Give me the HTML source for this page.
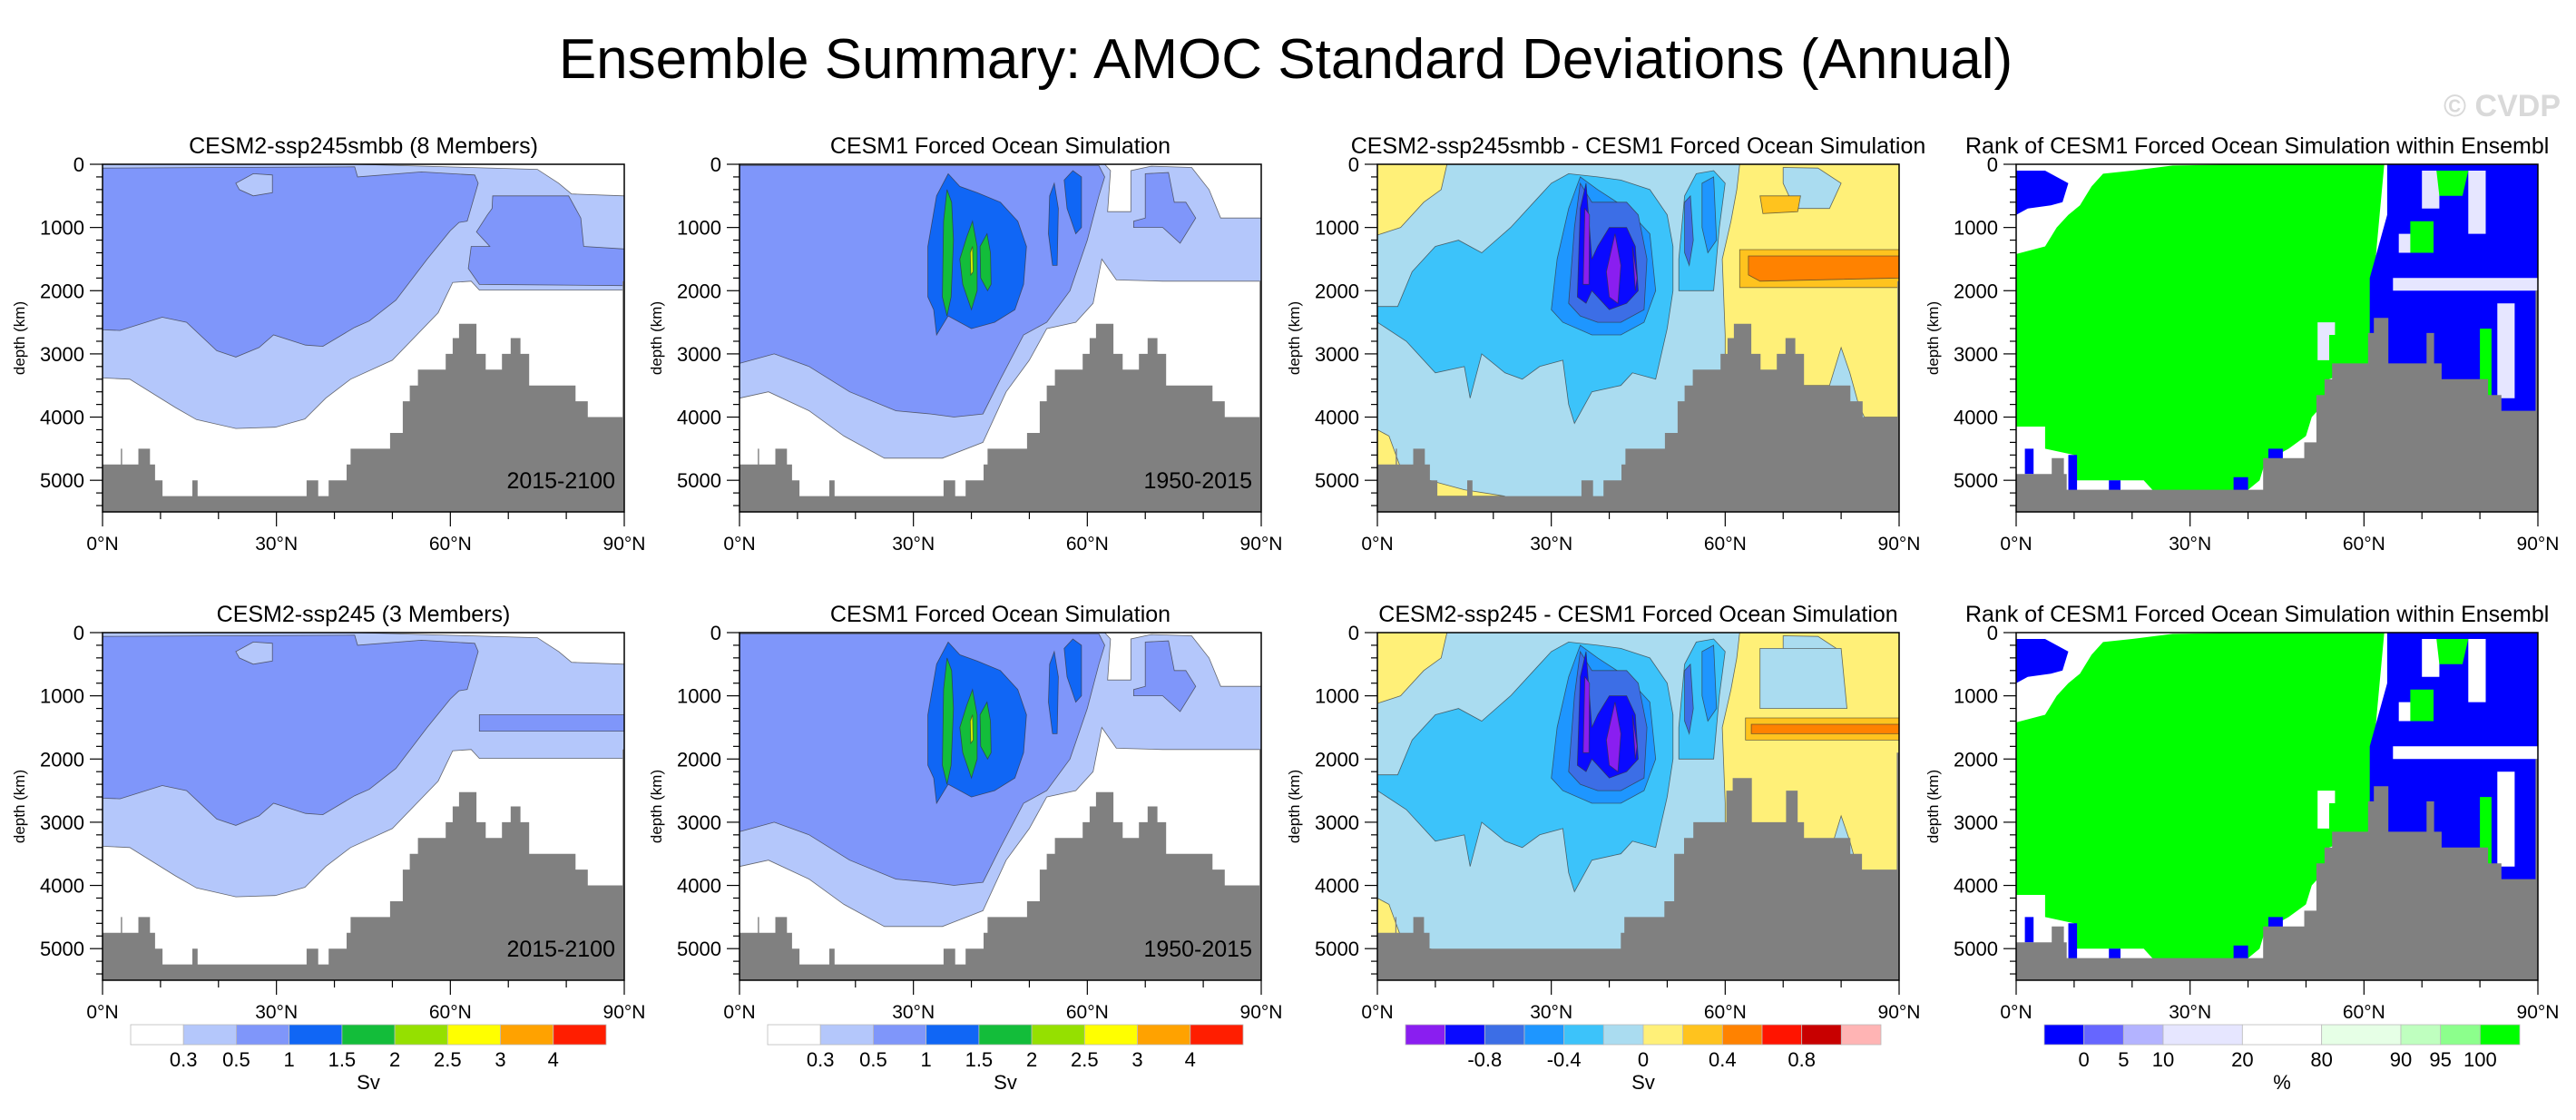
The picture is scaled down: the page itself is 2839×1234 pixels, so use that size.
<!DOCTYPE html>
<html><head><meta charset="utf-8"><title>Ensemble Summary: AMOC Standard Deviations (Annual)</title>
<style>
html,body{margin:0;padding:0;background:#fff;}
svg{display:block;font-family:"Liberation Sans",Arial,sans-serif;}
</style></head>
<body>
<svg id="fig" width="2839" height="1234" viewBox="0 0 2839 1234" xmlns="http://www.w3.org/2000/svg">
<rect x="0" y="0" width="2839" height="1234" fill="#fff"/>
<text x="1417" y="86" font-size="62" text-anchor="middle" fill="#000">Ensemble Summary: AMOC Standard Deviations (Annual)</text>
<text x="2822" y="128" font-size="34" font-weight="bold" text-anchor="end" fill="#d9d9d9">© CVDP</text>
<g id="panels"></g>
</svg>
<script>
// ---- data: bathymetry (lat edges, floor depth) ----
const bathyA_edges=[0,3.16,3.38,6.18,8.19,9.06,10.35,15.5,16.4,35.2,37.2,39.0,42.1,42.8,49.6,51.8,53.0,54.4,59.2,60.4,61.5,64.5,66.1,68.9,70.4,72.1,73.6,81.6,83.7,89.7,90];
const bathyA_depth=[4750,4500,4750,4500,4750,5000,5250,5000,5250,5000,5250,5000,4750,4500,4250,3750,3500,3250,3000,2750,2525,3000,3250,3000,2750,3000,3500,3750,4000,1850];
const bathyB_edges=[0,6.14,8.23,8.72,42.6,49.7,51.8,53.2,54.5,60.7,61.7,64.2,70.8,72.1,73.4,81.4,83.7,89.6,90];
const bathyB_depth=[4900,4650,4900,5150,4650,4400,3650,3400,3150,2670,2430,3150,2670,3150,3400,3650,3900,2000];
const bathyC_edges=[0,3.1,3.28,6.2,8.05,9.0,42.0,42.6,49.5,51.2,52.9,54.5,60.2,61.3,64.6,70.5,72.5,73.6,81.6,83.6,89.6,90];
const bathyC_depth=[4750,4500,4750,4500,4750,5000,4750,4500,4250,3500,3250,3000,2500,2300,3000,2500,3000,3250,3500,3750,1900];

// ---- data: contour regions, [lat, depth] ----
const sdLight1=[[0,0],[43.5,0],[75,80],[78.7,300],[80.9,470],[90,500],[90,1990],[65,1990],[63.6,1850],[60.4,1870],[57.9,2350],[50,3100],[42.8,3400],[38.5,3700],[34.9,4030],[29.8,4160],[23,4180],[16.2,4040],[12.6,3850],[4.7,3400],[0,3380]];
const sdMed1=[[0,60],[43.5,40],[44,200],[55,120],[64.2,170],[64.8,300],[62.9,900],[61.5,920],[60,1050],[56,1500],[50.6,2150],[46,2480],[43.5,2580],[38,2880],[35,2860],[29.5,2700],[27,2900],[23,3050],[19.7,2950],[14.5,2500],[10.3,2420],[3,2630],[0,2620]];
const sdMedBox1=[[67.3,500],[80.4,500],[82.5,850],[83,1300],[90,1340],[90,1920],[65,1900],[63.1,1650],[63.6,1300],[66.8,1300],[64.5,1070],[66.4,800],[67.2,700]];
const sdMedBox2=[[65,1300],[90,1300],[90,1560],[65,1560]];
const sdIsle1=[[23.6,400],[23,300],[26,150],[29.3,170],[29.3,450],[26,500]];
const cfLight=[[0,0],[63,0],[64,100],[63.5,750],[67.5,750],[67.5,100],[71,30],[78,50],[81,400],[83,850],[90,850],[90,1850],[73,1850],[65,1830],[62.5,1500],[61,2200],[58,2500],[53,2600],[50,3100],[46,3600],[42,4400],[35,4650],[25,4650],[18,4300],[12,3900],[5,3600],[0,3700]];
const cfMed=[[0,20],[62,20],[63,200],[62,500],[60,1200],[57,2000],[53,2500],[49,2700],[45,3400],[42,3950],[37,4000],[33,3950],[27,3900],[19,3600],[12,3200],[6,3000],[2,3100],[0,3150]];
const cfMedPatch=[[70,150],[74,130],[75,600],[77,600],[78.7,850],[76,1250],[73,1000],[68,1000],[68,900],[70,850]];
const cfBlue=[[32.5,2100],[32.5,1300],[34,500],[36,150],[38,350],[41,450],[45,600],[48,900],[49.5,1300],[49,1900],[47.5,2300],[44,2500],[40,2600],[36,2400],[34,2700],[33.5,2300]];
const cfBlue2=[[53.5,500],[54.3,300],[55,700],[54.8,1600],[54,1600],[53.3,1100]];
const cfBlue3=[[56,250],[57.5,100],[59,200],[59,1000],[58,1100],[56.5,700]];
const cfGreen1=[[35,2100],[35.2,900],[35.8,400],[36.6,600],[36.9,1200],[36.5,2100],[35.8,2400]];
const cfGreen2=[[38,1500],[39.2,1150],[40.2,900],[41,1300],[41,2000],[40,2300],[38.5,1900]];
const cfGreen3=[[41.5,1300],[42.7,1100],[43.3,1400],[43.4,1900],[42.8,2000],[41.6,1800]];
const cfYellow=[[39.8,1400],[40.2,1300],[40.3,1700],[39.9,1750]];
// difference panels
const dfYellowL=[[0,0],[12,0],[11,400],[8,600],[4,1000],[0,1120]];
const dfYellowR=[[62.5,0],[90,0],[90,4000],[84,4000],[83,3800],[81.5,3300],[80,2900],[78,3500],[73,3500],[60,3500],[60,2700],[59.5,1500],[61,900],[62,400]];
const dfYellowB=[[0,4200],[2,4300],[4,4800],[9,5000],[15,5150],[22,5250],[0,5250]];
const dfLBpatch=[[70,50],[76,60],[80,300],[78,700],[72,700],[70,300]];
const dfOrangeS=[[66,500],[73,500],[72.5,750],[66.5,780]];
const dfMed=[[0,2250],[3.5,2250],[6,1700],[10,1300],[14,1200],[18,1400],[23,1000],[28,500],[30,300],[33,150],[38,200],[42,250],[47,400],[50,800],[51,1300],[51,2000],[50,2600],[48,3400],[44,3300],[42,3500],[37,3600],[34,4100],[33,3800],[32,3100],[28,3200],[25,3400],[22,3300],[18,3000],[16,3700],[15,3200],[10,3300],[5,2800],[0,2500]];
const dfMed2=[[52,1500],[53,500],[55,150],[58,100],[60,300],[59,1000],[58,2000],[55,2000],[52,2000]];
const dfBlue1=[[30,2300],[31,1500],[33,700],[35,200],[38,400],[43,700],[47,1100],[48,2000],[46,2500],[42,2700],[37,2700],[32,2500]];
const dfBlue1b=[[56,300],[58,200],[58.5,1200],[57,1400],[56,1000]];
const dfBlue2=[[33,2200],[34,1000],[35,300],[37,600],[40,600],[43,600],[45,800],[46.5,1500],[46,2300],[42,2500],[38,2500],[35,2400]];
const dfBlue2b=[[53,600],[54,500],[54.5,1200],[53.8,1600],[53,1400]];
const dfBlue3=[[34.5,2100],[35,700],[36,300],[37,1500],[38,1300],[40,1000],[43,1000],[44.5,1300],[45,2000],[43,2200],[40,2300],[37,2000],[36,2200]];
const dfPurple1=[[35.5,1900],[35.8,700],[36.6,800],[36.5,1900]];
const dfPurple2=[[39.5,1700],[41,1100],[42,1600],[41.5,2200],[40,2100]];
const dfPurple3=[[44,1300],[44.8,1800],[44.5,2000]];
// rank panels
const rkGreen=[[0,1420],[5,1300],[7,1000],[9,800],[11,650],[13,350],[15,150],[20,100],[27,20],[40,0],[63.5,0],[63,500],[62,1500],[61.5,2500],[61,3300],[57,3300],[54,3400],[53,3800],[51,4000],[50,4300],[47,4500],[43,4700],[42,5000],[38,5300],[25,5300],[22,5000],[10,5000],[10,4600],[5,4500],[5,4150],[0,4150]];
const rkBlueTL=[[0,100],[5,100],[9,300],[8,600],[6,650],[2,700],[0,800]];
const rkBlueR=[[64,0],[90,0],[90,4100],[61,4100],[61,1800],[62.5,1300],[64,800]];
const rkWhiteR=[[[65,1800],[90,1800],[90,2000],[65,2000]],[[70,100],[73,100],[73,700],[70,700]],[[78,100],[81,100],[81,1100],[78,1100]],[[66,1100],[70,1100],[70,1400],[66,1400]],[[83,2200],[86,2200],[86,3700],[83,3700]],[[52,2500],[55,2500],[55,3100],[52,3100]]];
const rkGreenR=[[[72.5,100],[78,100],[77,500],[73,500]],[[68,900],[72,900],[72,1400],[68,1400]],[[80,2600],[82,2600],[82,3700],[80,3700]],[[54,2700],[58,2700],[58,3200],[54,3200]]];
const rkBlueB=[[[1.5,4500],[3,4500],[3,4900],[1.5,4900]],[[9,4600],[10.5,4600],[10.5,5250],[9,5250]],[[16,5000],[18,5000],[18,5250],[16,5250]],[[37.5,4950],[40,4950],[40,5250],[37.5,5250]],[[43.5,4500],[46,4500],[46,4800],[43.5,4800]]];

// colorbar data
const cbSD_colors=['#ffffff','#b4c7fb','#7f96fa','#1066f5','#13bd3a','#95e000','#ffff00','#ffa200','#ff1e00'];
const cbSD_labels=['0.3','0.5','1','1.5','2','2.5','3','4'];
const cbDF_colors=['#8a1ef0','#0a0aff','#3c6ee6','#1e96ff','#3cc3fa','#aadcf0','#fff078','#ffc31e','#ff8200','#ff1400','#c80000','#ffb4b4'];
const cbDF_labels=['-0.8','-0.4','0','0.4','0.8'];
const cbDF_pos=[2,4,6,8,10];
const cbRK_colors=['#0000ff','#6666ff','#b3b3ff','#e6e6ff','#ffffff','#e6ffe6','#bfffbf','#8cff8c','#00ff00'];
const cbRK_units=[1,1,1,2,2,2,1,1,1];
const cbRK_labels=['0','5','10','20','80','90','95','100'];
const cbRK_pos=[1,2,3,5,7,9,10,11];

const yTicks=[0,1000,2000,3000,4000,5000];
const xTicks=[0,30,60,90];
const xTickLabels=['0°N','30°N','60°N','90°N'];

// ---- drawing ----
const NS='http://www.w3.org/2000/svg';
const root=document.getElementById('panels');
const COLX=[113,815,1518,2222], W=575;
const ROWY=[181,697], H=383, DMAX=5500;
function mk(tag,attrs,parent){const e=document.createElementNS(NS,tag);for(const k in attrs)e.setAttribute(k,attrs[k]);(parent||root).appendChild(e);return e;}
function scales(x0,y0){return {x:lat=>x0+lat/90*W,y:d=>y0+Math.min(d,DMAX)/DMAX*H};}
function poly(g,s,pts,fill,name,stroke){
  const p=mk('path',{d:'M'+pts.map(q=>s.x(q[0]).toFixed(1)+','+s.y(q[1]).toFixed(1)).join('L')+'Z',fill:fill,stroke:stroke?'#333':'none','stroke-width':stroke?0.8:0,'stroke-opacity':0.7},g);
  
  
  return p;
}
function bathy(g,s,edges,depth){
  let d='M'+s.x(0)+','+s.y(DMAX);
  for(let i=0;i<depth.length;i++){d+='L'+s.x(edges[i]).toFixed(1)+','+s.y(depth[i]).toFixed(1)+'L'+s.x(edges[i+1]).toFixed(1)+','+s.y(depth[i]).toFixed(1);}
  d+='L'+s.x(90)+','+s.y(DMAX)+'Z';
  const p=mk('path',{d:d,fill:'#808080'},g);
  
  
}
function axes(g,x0,y0,s){
  const f=mk('rect',{x:x0,y:y0,width:W,height:H,fill:'none',stroke:'#000','stroke-width':1.5},g);
  
  
  for(let d=0;d<=DMAX;d+=200){const maj=d%1000===0;mk('line',{x1:x0,x2:x0-(maj?14:7),y1:s.y(d),y2:s.y(d),stroke:'#000','stroke-width':1.2},g);}
  yTicks.forEach(v=>{const t=mk('text',{x:x0-20,y:s.y(v)+8,'font-size':22,'text-anchor':'end'},g);t.textContent=String(v);
    
    });
  for(let l=0;l<=90;l+=10){const maj=l%30===0;mk('line',{x1:s.x(l),x2:s.x(l),y1:y0+H,y2:y0+H+(maj?16:8),stroke:'#000','stroke-width':1.2},g);}
  xTicks.forEach((v,i)=>{const t=mk('text',{x:s.x(v),y:y0+H+42,'font-size':21,'text-anchor':'middle'},g);t.textContent=xTickLabels[i];
    
    });
  const yt=mk('text',{x:0,y:0,'font-size':17,'text-anchor':'middle',transform:'translate('+(x0-86)+','+(y0+H/2)+') rotate(-90)'},g);
  yt.textContent='depth (km)';
  
  
}
function title(g,x0,y0,txt,left){
  const t=mk('text',{x:left?2166:x0+W/2,y:y0-12,'font-size':25,'text-anchor':left?'start':'middle'},g);
  t.textContent=txt;
  
  
}
function period(g,x0,y0,txt){const t=mk('text',{x:x0+W-10,y:y0+H*(5130/5500),'font-size':25,'text-anchor':'end'},g);t.textContent=txt;
  
  }

function panelSD1(g,s,variant){
  poly(g,s,sdLight1,'#b4c7fb','contour-0.3-0.5',true);
  poly(g,s,sdMed1,'#7f96fa','contour-0.5-1',true);
  poly(g,s,variant?sdMedBox2:sdMedBox1,'#7f96fa','contour-0.5-1-north',true);
  poly(g,s,sdIsle1,'#b4c7fb','contour-island',true);
}
function panelCF(g,s){
  poly(g,s,cfLight,'#b4c7fb','contour-0.3-0.5',true);
  poly(g,s,cfMed,'#7f96fa','contour-0.5-1',true);
  poly(g,s,cfMedPatch,'#7f96fa','contour-0.5-1-north',true);
  [cfBlue,cfBlue2,cfBlue3].forEach(p=>poly(g,s,p,'#1066f5','contour-1-1.5',true));
  [cfGreen1,cfGreen2,cfGreen3].forEach(p=>poly(g,s,p,'#13bd3a','contour-1.5-2',true));
  poly(g,s,cfYellow,'#d8f000','contour-2-2.5',true);
}
function panelDF(g,s,row2){
  mk('rect',{x:s.x(0),y:s.y(0),width:W,height:H,fill:'#aadcf0'},g);
  poly(g,s,dfYellowL,'#fff078','contour-0-0.2-west',true);
  poly(g,s,dfYellowR,'#fff078','contour-0-0.2-north',true);
  poly(g,s,dfYellowB,'#fff078','contour-0-0.2-deep',true);
  poly(g,s,dfLBpatch,'#aadcf0','contour-patch',true);
  if(row2){poly(g,s,[[66,250],[80,250],[81,1200],[66,1200]],'#aadcf0','contour-patch',true);}
  else poly(g,s,dfOrangeS,'#ffc31e','contour-0.2-0.4-patch',true);
  const b1=row2?[[63.5,1350],[90,1350],[90,1700],[63.5,1700]]:[[62.5,1350],[90,1350],[90,1950],[62.5,1950]];
  const b2=row2?[[64.5,1450],[90,1450],[90,1600],[64.5,1600]]:[[64,1450],[90,1450],[90,1800],[66,1850],[64,1750]];
  poly(g,s,b1,'#ffc31e','contour-0.2-0.4-band',true);
  poly(g,s,b2,'#ff8200','contour-0.4-0.6-band',true);
  poly(g,s,dfMed,'#3cc3fa','contour-neg0.4-neg0.2',true);
  poly(g,s,dfMed2,'#3cc3fa','contour-neg0.4-neg0.2',true);
  poly(g,s,dfBlue1,'#1e96ff','contour-neg0.6-neg0.4',true);
  poly(g,s,dfBlue1b,'#1e96ff','contour-neg0.6-neg0.4',true);
  poly(g,s,dfBlue2,'#3c6ee6','contour-neg0.8-neg0.6',true);
  poly(g,s,dfBlue2b,'#3c6ee6','contour-neg0.8-neg0.6',true);
  poly(g,s,dfBlue3,'#0a0aff','contour-neg1-neg0.8',true);
  [dfPurple1,dfPurple2,dfPurple3].forEach(p=>poly(g,s,p,'#8a1ef0','contour-below-neg1',true));
}
function panelRK(g,s,row2){
  poly(g,s,rkGreen,'#00ff00','rank-above-95');
  poly(g,s,rkBlueTL,'#0000ff','rank-below-0');
  poly(g,s,rkBlueR,'#0000ff','rank-below-0-north');
  rkWhiteR.forEach(p=>poly(g,s,p,row2?'#ffffff':'#e6e6ff','rank-mid'));
  rkGreenR.forEach(p=>poly(g,s,p,'#00ff00','rank-above-95-patch'));
  rkBlueB.forEach(p=>poly(g,s,p,'#0000ff','rank-below-0-deep'));
}
function colorbar(g,x0,colors,units,labels,pos,unit){
  const cx=x0+31, cw=524, y=1129, h=22;
  const tot=units.reduce((a,b)=>a+b,0);
  let acc=0;
  colors.forEach((c,i)=>{const r=mk('rect',{x:cx+acc/tot*cw,y:y,width:units[i]/tot*cw,height:h,fill:c,stroke:'#bbb','stroke-width':0.8},g);
    
    
    acc+=units[i];});
  labels.forEach((l,i)=>{const t=mk('text',{x:cx+pos[i]/tot*cw,y:1175,'font-size':22,'text-anchor':'middle'},g);t.textContent=l;
    
    });
  const u=mk('text',{x:cx+cw/2,y:1200,'font-size':22,'text-anchor':'middle'},g);u.textContent=unit;
  
  
}

const titles=[['CESM2-ssp245smbb (8 Members)','CESM1 Forced Ocean Simulation','CESM2-ssp245smbb - CESM1 Forced Ocean Simulation','Rank of CESM1 Forced Ocean Simulation within Ensembl'],
              ['CESM2-ssp245 (3 Members)','CESM1 Forced Ocean Simulation','CESM2-ssp245 - CESM1 Forced Ocean Simulation','Rank of CESM1 Forced Ocean Simulation within Ensembl']];
for(let r=0;r<2;r++){for(let c=0;c<4;c++){
  const x0=COLX[c], y0=ROWY[r], s=scales(x0,y0);
  const g=mk('g',{});
  
  
  if(c===0){panelSD1(g,s,r===1);bathy(g,s,bathyA_edges,bathyA_depth);period(g,x0,y0,'2015-2100');}
  if(c===1){panelCF(g,s);bathy(g,s,bathyA_edges,bathyA_depth);period(g,x0,y0,'1950-2015');}
  if(c===2){panelDF(g,s,r===1);if(r===0)bathy(g,s,bathyA_edges,bathyA_depth);else bathy(g,s,bathyC_edges,bathyC_depth);}
  if(c===3){panelRK(g,s,r===1);bathy(g,s,bathyB_edges,bathyB_depth);}
  axes(g,x0,y0,s);
  title(g,x0,y0,titles[r][c],c===3);
}}
const gcb=mk('g',{});


colorbar(gcb,COLX[0],cbSD_colors,cbSD_colors.map(()=>1),cbSD_labels,[1,2,3,4,5,6,7,8],'Sv');
colorbar(gcb,COLX[1],cbSD_colors,cbSD_colors.map(()=>1),cbSD_labels,[1,2,3,4,5,6,7,8],'Sv');
colorbar(gcb,COLX[2],cbDF_colors,cbDF_colors.map(()=>1),cbDF_labels,cbDF_pos,'Sv');
colorbar(gcb,COLX[3],cbRK_colors,cbRK_units,cbRK_labels,cbRK_pos,'%');
</script>
</body></html>
